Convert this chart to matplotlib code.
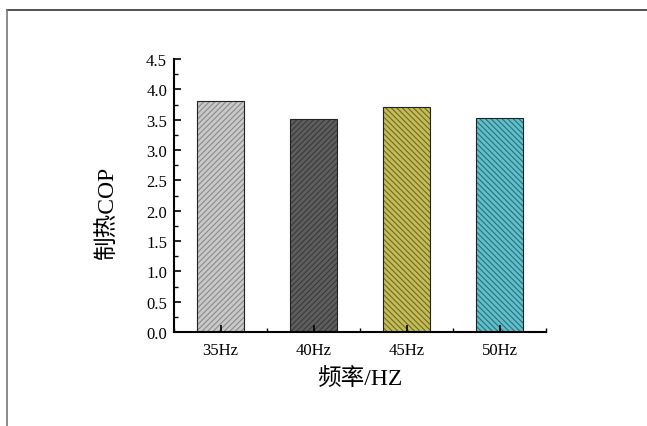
import matplotlib
matplotlib.use('Agg')
import matplotlib.pyplot as plt
from matplotlib.lines import Line2D
from matplotlib.ticker import MultipleLocator, FixedLocator

# data
categories = ['35Hz', '40Hz', '45Hz', '50Hz']
cop_values = [3.81, 3.51, 3.71, 3.52]
bar_colors = ['#c9c9c9', '#5e5e5e', '#c4bc55', '#5fc0cb']
hatch_colors = ['#8a8a8a', '#3a3a3a', '#6e6a2a', '#2e6f78']
hatches = ['//////', '//////', '\\\\\\\\\\\\', '\\\\\\\\\\\\']

serif_cjk = ['Liberation Serif', 'Noto Sans CJK SC']
plt.rcParams['font.family'] = serif_cjk
plt.rcParams['hatch.linewidth'] = 0.8

fig = plt.figure(figsize=(6.47, 4.27), dpi=100)
ax = fig.add_axes([174 / 647, 1 - 333 / 427, 372 / 647, 273 / 427])

x = range(len(categories))
bars = ax.bar(x, cop_values, width=0.5, color=bar_colors, edgecolor='#222222',
              linewidth=0.8)
for b, h, hc in zip(bars, hatches, hatch_colors):
    b.set_hatch(h)
    b._hatch_color = matplotlib.colors.to_rgba(hc)

ax.set_xlim(-0.5, 3.5)
ax.set_ylim(0, 4.5)
ax.set_xticks(list(x))
ax.set_xticklabels(categories, fontsize=12)
ax.xaxis.set_minor_locator(FixedLocator([-0.5, 0.5, 1.5, 2.5, 3.5]))
ax.yaxis.set_major_locator(MultipleLocator(0.5))
ax.yaxis.set_minor_locator(MultipleLocator(0.25))
ax.tick_params(axis='both', which='major', direction='in', length=5, width=1.2,
               labelsize=12, pad=5)
ax.tick_params(axis='x', which='major', pad=7)
ax.tick_params(axis='both', which='minor', direction='in', length=3, width=1.0)
ax.yaxis.set_major_formatter(matplotlib.ticker.FormatStrFormatter('%.1f'))

for s in ['top', 'right']:
    ax.spines[s].set_visible(False)
for s in ['left', 'bottom']:
    ax.spines[s].set_linewidth(1.5)

ax.set_ylabel('制热COP', fontsize=17)
ax.yaxis.set_label_coords(-0.15, 0.44)
ax.set_xlabel('频率/HZ', fontsize=17)
ax.xaxis.set_label_coords(0.5, -0.13)

# page frame lines
fig.add_artist(Line2D([7 / 647, 1], [1 - 11 / 427, 1 - 11 / 427],
                      transform=fig.transFigure, color='#333333', lw=1.2))
fig.add_artist(Line2D([7 / 647, 7 / 647], [0, 1 - 11 / 427],
                      transform=fig.transFigure, color='#777777', lw=1.2))

fig.savefig('out.png', dpi=100)
